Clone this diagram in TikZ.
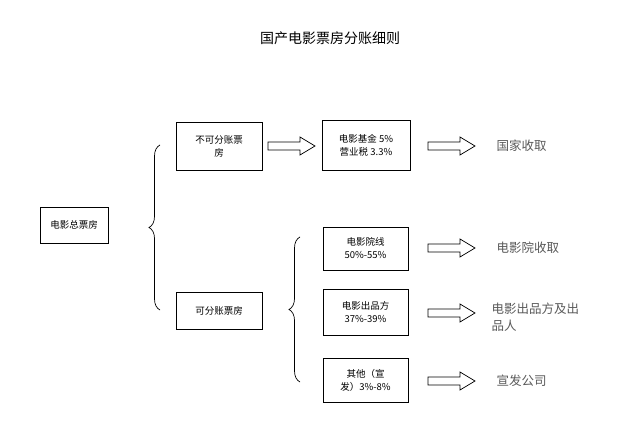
\documentclass[tikz,border=0pt]{standalone}
\usepackage{fontspec}
\setmainfont{Noto Sans CJK SC}
\usetikzlibrary{decorations.pathreplacing}
\begin{document}
\begin{tikzpicture}[x=1pt,y=-1pt,
  box/.style={draw,line width=0.8pt,align=center,font=\fontsize{9.5}{13}\selectfont,inner sep=0pt},
  res/.style={anchor=west,text=black!65,font=\fontsize{12.5}{17}\selectfont,align=left},
  brc/.style={decorate,decoration={brace,amplitude=11pt,mirror},line width=0.7pt},
  harrow/.style={line width=0.7pt,fill=white}]
\useasboundingbox (0,0) rectangle (640,443);
\fill[white] (0,0) rectangle (640,443);
\newcommand\hollow[1]{\draw[harrow] ($(#1)+(0,-4)$) -- ++(32,0) -- ++(0,-5) -- ++(15,9) -- ++(-15,9) -- ++(0,-5) -- ++(-32,0) -- cycle;}
\node[font=\fontsize{14}{17}\selectfont] (t) at (330,38) {国产电影票房分账细则};
\node[box,minimum width=68pt,minimum height=36pt] (tot) at (74,225) {电影总票房};
\node[box,minimum width=86pt,minimum height=48pt] (nd) at (219,146) {不可分账票\\房};
\node[box,minimum width=86pt,minimum height=37pt] (d) at (219,311) {可分账票房};
\node[box,minimum width=88pt,minimum height=50pt] (fund) at (366,145) {电影基金 5\%\\营业税 3.3\%};
\node[box,minimum width=85pt,minimum height=43pt] (cin) at (365.5,248.5) {电影院线\\50\%-55\%};
\node[box,minimum width=85pt,minimum height=46pt] (pro) at (365.5,312) {电影出品方\\37\%-39\%};
\node[box,minimum width=85pt,minimum height=44pt] (oth) at (365.5,380) {其他（宣\\发）3\%-8\%};
\node[res] (r1) at (493,146) {国家收取};
\node[res] (r2) at (493,248) {电影院收取};
\node[res] (r3) at (488,317) {电影出品方及出\\品人};
\node[res] (r4) at (493,381) {宣发公司};
\draw[brc] (160,145) -- (160,310);
\draw[brc] (300,237) -- (300,382);
\usetikzlibrary{calc}
\coordinate (a1) at (268,146);
\coordinate (a2) at (428,146);
\coordinate (a3) at (428,248);
\coordinate (a4) at (428,313);
\coordinate (a5) at (428,381);
\foreach \c in {a1,a2,a3,a4,a5}{\hollow{\c}}
\end{tikzpicture}
\end{document}
